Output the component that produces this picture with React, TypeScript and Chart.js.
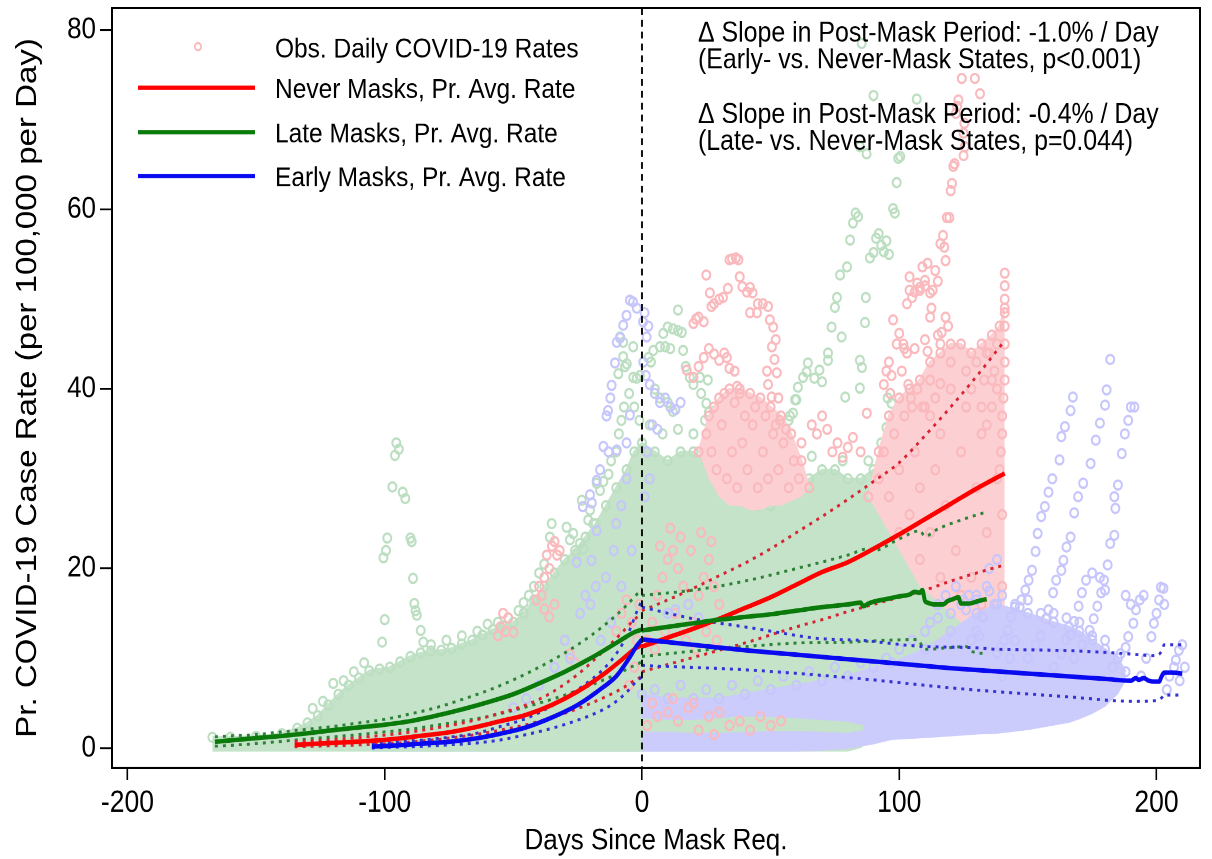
import React, { useEffect, useRef } from "react";
import { Chart, registerables } from "chart.js";

Chart.register(...registerables);

type Pt = [number, number];

// ---------------- axes ----------------
const xTickValues = [-200, -100, 0, 100, 200];
const yTickValues = [0, 20, 40, 60, 80];
const xTitle = "Days Since Mask Req.";
const yTitle = "Pr. COVID-19 Case Rate (per 100,000 per Day)";

const legendLabels = [
  "Obs. Daily COVID-19 Rates",
  "Never Masks, Pr. Avg. Rate",
  "Late Masks, Pr. Avg. Rate",
  "Early Masks, Pr. Avg. Rate",
];
const noteLines = [
  "\u0394 Slope in Post-Mask Period: -1.0% / Day",
  "(Early- vs. Never-Mask States, p<0.001)",
  "\u0394 Slope in Post-Mask Period: -0.4% / Day",
  "(Late- vs. Never-Mask States, p=0.044)",
];

// ---------------- predicted average rates ----------------
const neverPreDays = [-135, -125, -115, -105, -95, -85, -75, -65, -55, -45, -35, -25, -15, -8, -3, 0];
const neverPreRate = [0.35, 0.5, 0.65, 0.8, 1.05, 1.4, 1.75, 2.3, 3.0, 3.7, 4.8, 6.3, 8.2, 9.8, 11.0, 11.5];
const neverPreUpper = [0.7, 0.85, 1.05, 1.3, 1.6, 2.0, 2.5, 3.1, 3.9, 4.8, 6.2, 8.2, 10.8, 12.8, 14.3, 15.0];
const neverPreLower = [0.15, 0.22, 0.3, 0.4, 0.55, 0.8, 1.1, 1.5, 2.0, 2.6, 3.4, 4.4, 5.6, 6.6, 7.5, 8.0];
const neverPostDays = [0, 10, 20, 30, 40, 50, 60, 70, 80, 90, 100, 110, 120, 130, 141];
const neverPostRate = [11.3, 12.3, 13.3, 14.4, 15.6, 16.8, 18.2, 19.6, 20.7, 22.2, 23.8, 25.5, 27.2, 28.9, 30.6];
const neverPostUpper = [15.3, 16.5, 17.8, 19.2, 20.6, 22.2, 24.0, 25.8, 27.7, 29.7, 31.8, 34.8, 38.0, 41.4, 45.4];
const neverPostLower = [8.5, 9.3, 10.1, 10.9, 11.7, 12.6, 13.5, 14.3, 15.2, 16.0, 16.8, 17.6, 18.6, 19.5, 20.4];

const latePreDays = [-166, -160, -150, -140, -130, -120, -110, -100, -90, -80, -70, -60, -50, -40, -30, -20, -10, -3, 0];
const latePreRate = [0.7, 0.85, 1.1, 1.35, 1.65, 2.0, 2.3, 2.6, 3.0, 3.6, 4.3, 5.1, 6.0, 7.2, 8.5, 10.0, 11.7, 12.9, 13.2];
const latePreUpper = [1.25, 1.35, 1.5, 1.8, 2.1, 2.4, 2.8, 3.2, 3.8, 4.5, 5.4, 6.4, 7.6, 9.0, 10.6, 12.5, 14.8, 16.8, 17.8];
const latePreLower = [0.2, 0.3, 0.5, 0.75, 1.0, 1.25, 1.5, 1.8, 2.1, 2.55, 3.0, 3.5, 4.2, 5.0, 5.9, 7.0, 8.2, 9.2, 9.6];
const latePostDays = [0, 10, 20, 30, 40, 50, 60, 70, 80, 85, 86, 88, 90, 95, 100, 104, 106, 108, 109, 110, 111, 114, 117, 119, 121, 123, 124, 127, 131, 134];
const latePostRate = [13.1, 13.5, 13.9, 14.3, 14.6, 14.9, 15.3, 15.7, 16.0, 16.2, 15.8, 16.1, 16.3, 16.6, 16.9, 17.1, 17.4, 17.3, 17.6, 16.4, 16.2, 16.0, 16.0, 16.4, 16.6, 16.8, 16.1, 16.1, 16.4, 16.6];
const latePostUpperDays = [0, 20, 40, 60, 80, 88, 90, 100, 108, 110, 115, 125, 134];
const latePostUpper = [17.0, 17.6, 18.6, 20.0, 21.5, 22.2, 22.0, 23.3, 24.2, 23.6, 24.4, 25.5, 26.3];
const latePostLowerDays = [0, 20, 40, 60, 80, 95, 107, 110, 120, 126, 128, 134];
const latePostLower = [10.2, 10.8, 11.3, 11.7, 11.8, 12.0, 12.1, 11.0, 11.2, 11.3, 10.8, 10.5];

const earlyPreDays = [-105, -95, -85, -75, -65, -55, -45, -35, -25, -15, -10, -5, -2, 0];
const earlyPreRate = [0.15, 0.3, 0.5, 0.7, 1.05, 1.6, 2.3, 3.4, 4.8, 6.8, 8.0, 10.0, 11.4, 12.1];
const earlyPreUpper = [0.5, 0.7, 0.9, 1.2, 1.6, 2.4, 3.3, 4.7, 6.5, 8.8, 10.5, 13.0, 15.2, 16.5];
const earlyPreLower = [0.0, 0.1, 0.2, 0.35, 0.55, 0.9, 1.5, 2.2, 3.1, 4.3, 5.2, 6.5, 7.5, 7.9];
const earlyPostDays = [0, 20, 40, 60, 80, 100, 120, 140, 160, 180, 190, 192, 193, 195, 197, 199, 201, 202, 203, 206, 210];
const earlyPostRate = [12.1, 11.5, 10.9, 10.4, 9.9, 9.4, 8.9, 8.5, 8.1, 7.7, 7.5, 7.8, 7.6, 7.8, 7.5, 7.4, 7.4, 8.0, 8.4, 8.4, 8.3];
const earlyPostUpperDays = [0, 20, 42, 69, 85, 110, 128, 138, 160, 184, 200, 202, 203, 210];
const earlyPostUpper = [15.7, 14.4, 13.4, 12.2, 12.0, 11.3, 11.2, 11.0, 10.9, 10.6, 10.3, 10.8, 11.5, 11.5];
const earlyPostLowerDays = [0, 41, 82, 124, 166, 191, 200, 202, 203, 209];
const earlyPostLower = [9.2, 8.7, 7.8, 6.6, 5.7, 5.2, 5.3, 5.6, 5.9, 5.9];

// ---------------- observed daily rates: dense clouds (upper / lower envelopes) ----------------
const lateDensePreDays = [-167, -160, -150, -140, -134, -130, -126, -122, -118, -114, -110, -106, -102, -98, -94, -90, -86, -82, -78, -74, -70, -66, -62, -58, -54, -50, -46, -42, -38, -34, -30, -26, -22, -18, -14, -10, -6, -3, 0];
const lateDensePreTop = [1.2, 1.2, 1.3, 1.6, 2.2, 2.8, 3.6, 4.8, 6.0, 7.0, 7.8, 8.6, 8.8, 9.0, 9.6, 10.2, 10.6, 10.8, 10.9, 11.1, 11.6, 12.0, 12.6, 13.2, 13.6, 14.0, 15.0, 16.5, 18.0, 19.5, 21.0, 22.0, 23.5, 25.0, 27.0, 29.0, 31.0, 33.0, 34.0];
const lateDensePreBottom = [-0.4, -0.4, -0.4, -0.4, -0.4, -0.4, -0.4, -0.4, -0.4, -0.4, -0.4, -0.4, -0.4, -0.4, -0.4, -0.4, -0.4, -0.4, -0.4, -0.4, -0.4, -0.4, -0.4, -0.4, -0.4, -0.4, -0.4, -0.4, -0.4, -0.4, -0.4, -0.4, -0.4, -0.4, -0.4, -0.4, -0.4, -0.4, -0.4];
const lateDensePostDays = [0, 5, 10, 15, 20, 25, 30, 35, 40, 45, 50, 55, 60, 65, 70, 75, 80, 85, 90, 95, 100, 105, 110, 115, 120, 125, 130, 135];
const lateDensePostTop = [34, 33, 32, 33, 33, 32, 31, 29, 28, 27, 27, 28, 29, 30, 31, 31, 30, 30, 31, 30, 29, 28, 26, 25, 23, 21, 19, 17];
const lateDensePostBottom = [-0.4, -0.4, -0.4, -0.4, -0.4, -0.4, -0.4, -0.4, -0.4, -0.4, -0.4, -0.4, -0.4, -0.4, -0.4, -0.4, -0.4, 0, 1, 2, 3, 4, 4, 4, 4, 4, 4, 4];
const lateDenseLowDays = [0, 10, 20, 30, 40, 50, 60, 70, 80, 86];
const lateDenseLowTop = [3.2, 3.0, 3.0, 3.2, 3.4, 3.3, 3.2, 3.0, 2.8, 2.4];
const lateDenseLowBottom = [1.8, 1.8, 1.7, 1.7, 1.8, 1.9, 1.9, 1.8, 1.7, 2.0];

const neverDenseADays = [22, 26, 30, 34, 38, 42, 46, 50, 54, 58, 62, 65];
const neverDenseATop = [33, 37, 39, 40, 40, 39.5, 39, 38, 37, 35, 32, 29];
const neverDenseABottom = [33, 30, 28, 27, 27, 26.5, 26.5, 27, 27, 27.5, 28, 29];
const neverDenseBDays = [88, 92, 96, 100, 104, 108, 112, 116, 120, 124, 128, 132, 136, 139, 141];
const neverDenseBTop = [28, 33, 37, 39, 40, 41, 43, 44, 45, 45, 44, 45, 46, 47, 49];
const neverDenseBBottom = [28, 26, 24, 22, 20, 18, 17, 16, 15, 14, 13.5, 13, 13, 13.5, 14];

const earlyDensePreDays = [-105, -80, -60, -40, -20, 0];
const earlyDensePreTop = [0.8, 1.0, 1.2, 1.5, 2.0, 3.0];
const earlyDensePreBottom = [-0.4, -0.4, -0.4, -0.4, -0.4, -0.4];
const earlyDensePostDays = [0, 10, 20, 30, 40, 50, 60, 70, 80, 90, 97, 110, 120, 130, 138, 150, 160, 166, 170, 175, 180, 185, 188];
const earlyDensePostTop = [6, 5.5, 5.5, 5.5, 6, 6.5, 7, 7.5, 8, 9, 9.5, 11, 13, 15, 16, 15, 14, 13.5, 13, 12, 11, 10, 8.5];
const earlyDensePostBottom = [-0.4, -0.4, -0.4, -0.4, -0.4, -0.4, -0.4, -0.3, -0.1, 0.4, 0.9, 1.1, 1.3, 1.5, 1.6, 2.0, 2.5, 2.8, 3.2, 3.8, 4.6, 6.0, 7.5];

// ---------------- observed daily rates: individual points [day, rate] ----------------
const lateObs: Pt[] = [
  [-101, 11.8], [-100, 14.3], [-100.5, 21.2], [-99.5, 22.0], [-99, 23.4], [-97, 29.1], [-96, 32.6], [-95.5, 34.0], [-94.5, 33.3], [-93, 28.5], [-92, 27.8], [-90, 23.4], [-89.5, 23.0], [-89, 18.9], [-88.5, 16.1], [-88, 15.3], [-86, 13.1], [-85, 11.8], [-87.5, 14.8],
  [-35.1, 25.0], [-35.8, 23.5], [-29.3, 24.6], [-26.7, 23.9], [-28, 23.2], [-24.1, 22.8], [-22.8, 22.2], [-25.4, 21.7], [-20.9, 25.4], [-18.9, 25.0], [-23.4, 27.6], [-20.2, 26.5], [-17.6, 29.5], [-15, 29.7], [-16.3, 28.7], [-13, 30.5], [-12, 32], [-10, 33], [-9, 35], [-8, 36.5], [-7, 38],
  [-9.2, 41.7], [-7.3, 43.6], [-5.9, 42.8], [-6.6, 42.5], [-3.4, 44.7], [-3.4, 41.3], [-2.1, 41.2], [-0.8, 41.5], [-8.5, 45.8], [-7.3, 45.2], [-5, 39.5], [-3, 38], [-1, 36.5],
  [-44, 17], [-46, 16.2], [-42, 18], [-40, 19.5], [-38, 20.5], [-48, 15.3], [-52, 14.5], [-56, 14], [-60, 13.8], [-64, 13], [-70, 12.5], [-76, 12], [-82, 11.5], [-108, 9.5], [-112, 8.5], [-116, 7.5], [-120, 7.2], [-124, 5.2], [-128, 4.4],
  [2.5, 43.5], [3.5, 43], [4.4, 44.3], [7, 44.7], [9, 44.7], [11, 44.5], [16, 44.3], [8.3, 46.2], [10, 46.9], [12, 46.7], [14, 46.5], [15.5, 46.3], [14, 48.8], [18.6, 41.3], [22.5, 41.3], [25.6, 41], [23, 39.5], [25, 38.4], [28, 37.5], [26, 37.4], [24.5, 36.5], [29, 35], [30, 34.3], [20, 40.5], [17, 42.5], [5, 40], [7, 39], [10, 38.5], [12, 37.5],
  [55, 33.9], [56, 35], [57, 36.5], [58.7, 37.3], [59.5, 38.8], [60.6, 40.2], [62.6, 41.3], [64, 41.9], [64.5, 42.9], [67, 41.2], [69, 42.1], [70, 40.8], [72.3, 43.2], [72.3, 44], [73.7, 46.9], [75, 49.1], [75.8, 50.2], [77.6, 45.8], [77, 52.7], [79.7, 53.6], [80.9, 56.6], [82, 58.5], [83, 59.6], [84, 59.2],
  [84.7, 40.1], [85.5, 42.4], [84.7, 43.2], [86.7, 47.4], [87, 50.2], [88.6, 54.6], [90, 55.2], [91, 56.8], [92, 57.3], [93, 56], [94, 55.3], [95, 56.5], [96, 55], [97.6, 60.1], [98.3, 59.6], [99, 63], [99.6, 65.7], [100.4, 65.9], [84.7, 67], [87.3, 66.2], [90, 72.7], [106.8, 72.3], [85.4, 78.5],
  [79, 39.1], [95, 35.7], [96, 37], [97, 38.4], [95.5, 39], [93, 34], [60, 38.8], [57.5, 37], [113, 22], [115, 23.5], [118, 21], [120, 24], [122, 20], [125, 19],
  [36, 31], [44, 30], [52, 31.5], [66, 32.5], [78, 32], [88, 32], [100, 30.5], [108, 28.5], [3, 36], [8, 35], [14, 35.5], [20, 35], [26, 33.5],
];

const neverObs: Pt[] = [
  [-56, 12.5], [-55, 13.5], [-54, 15], [-52, 14.5], [-50, 12.9], [-53, 13], [-41, 16.5], [-40, 18], [-39, 17], [-38, 19], [-36, 20], [-37, 21.5], [-35, 22.5], [-34, 23], [-33, 21.5], [-32, 22], [-36, 14.6], [-34, 16], [-38, 15.5], [-30, 12], [-28, 10.5], [-26, 9.5],
  [-10, 13], [-8, 15], [-6, 16.5], [-4, 14], [-2, 12], [-3, 9], [-5, 7], [-1, 16],
  [2, 12], [4, 14], [6, 17], [8, 19], [10, 21], [12, 22], [14, 20], [16, 18], [18, 16], [20, 14], [22, 17], [24, 19], [26, 21], [28, 18], [30, 16], [5, 11], [9, 13], [13, 15], [17, 12], [21, 11], [25, 13], [29, 12], [7, 22.5], [11, 24.5], [15, 23.5], [19, 22], [23, 24], [27, 23],
  [17.4, 42.1], [20, 41.3], [22, 42.5], [24, 43.5], [26, 44.5], [28, 43.9], [30, 43.2], [32, 44], [33, 43.5], [34, 42.3], [36, 42], [37, 40.3], [38, 39.5], [20, 47.3], [21, 47.8], [22, 48], [24, 47.5], [25, 52.7], [26.4, 50.7], [27, 49.2], [28, 49.5], [30, 50], [31.5, 50.2], [33.4, 51.2], [34, 54.4], [35, 54.5], [36.5, 54.6], [37.5, 54.4], [38, 52.5], [39, 51.4], [40.8, 50.8], [42, 51.3], [43, 50.7], [42, 48.5], [44.7, 48.5], [45, 49.5], [47, 49.5], [49, 49.2], [49.7, 47.7], [51, 46.9], [50.5, 44.7], [51.5, 43.3], [52.4, 41.8], [53, 39], [53.6, 36.5], [50.4, 39.1], [48.6, 42], [49, 40.5], [52, 45.5],
  [25, 35], [27, 33], [29, 31], [31, 36], [33, 30], [35, 33], [37, 29], [39, 34], [41, 31], [43, 36], [45, 29], [47, 33], [49, 30], [51, 35], [53, 31], [55, 34], [57, 29], [59, 32], [61, 30], [28, 38], [32, 39.5], [36, 38.5], [40, 37], [44, 38], [48, 37], [52, 36], [56, 35.5],
  [78, 32.4], [80, 33.5], [82, 34.6], [85, 33], [87.4, 37.3], [66, 36], [68, 35], [70, 37], [72, 35.5], [74, 33], [76, 34], [62, 34],
  [94, 40.5], [95, 42], [96, 43], [97, 41.5], [96.5, 39.5], [97.6, 47.7], [99, 45], [100, 46.2], [101.6, 45], [102, 44.5], [103, 49.5], [104, 51], [105, 50.2], [103.5, 40.5], [104.5, 39], [105, 38], [106, 44.5], [107, 51.8], [108, 51.3], [109, 53.6], [110, 52.1], [111, 54], [110, 45.5], [111, 44.2], [112, 48], [112.5, 49], [113, 51], [114, 53.2], [115, 52], [116, 56.2], [116.5, 46.3], [117, 57.1], [117.5, 55.8], [118, 54.3], [118.5, 59.1], [119.5, 59.1], [120, 62.1], [120.5, 62.9], [121, 64.8], [121.5, 65.1], [122, 70.7], [122.5, 71.5], [123, 72.2], [124.3, 74.6], [125, 68.5], [125.3, 69.6], [125, 66], [125.5, 67], [129.4, 74.6], [131.4, 72.9],
  [112, 50.7], [110, 51.5], [108, 51], [106, 50.8], [104, 52.5], [115, 46], [116, 45], [107, 40], [109, 38], [112, 37], [114, 39], [116, 40.6], [101, 42], [103, 44], [118, 48], [119, 47],
  [92, 30], [94, 33], [96, 28], [98, 35], [100, 31], [102, 37], [104, 26], [106, 33], [108, 29], [110, 38], [112, 24], [114, 31], [116, 35], [118, 27], [120, 40], [122, 22], [124, 33], [126, 38], [128, 19], [130, 29], [132, 35], [134, 24], [136, 41], [138, 30], [140, 26], [100, 24], [108, 21], [116, 19], [124, 17], [132, 16], [140, 18], [126, 42], [120, 43], [112, 41], [134, 44], [138, 45],
  [139, 31], [139.5, 33], [140, 35], [140, 37], [140.5, 39], [141, 41], [141, 43], [141, 45], [141, 47], [141, 48.5], [141, 50], [141, 51.5], [141, 52.9], [138, 40], [137, 42], [136, 38], [135, 44], [134, 36], [133, 41], [132, 38], [130, 43], [128, 40],
];

const neverObsLow: Pt[] = [
  [2, 2.5], [6, 3.5], [10, 4], [14, 3], [18, 4.5], [22, 2], [26, 3.5], [30, 4], [34, 2.5], [38, 3], [42, 2], [46, 3.5], [50, 2.5], [54, 3], [4, 5], [12, 5.5], [20, 5], [28, 1.5],
];

const earlyObs: Pt[] = [
  [-25.4, 20.7], [-23, 26.9], [-20.2, 28.2], [-19.5, 27.3], [-17.6, 29.8], [-16.3, 31], [-15, 33.6], [-13, 33], [-13.8, 37], [-13.2, 37.6], [-12.3, 39], [-11.8, 40.4], [-10.5, 42.9], [-9.8, 45.2], [-8.5, 45.7], [-7.3, 47.1], [-6, 48.2], [-4.7, 49.9], [-3.5, 49.7], [-2, 49], [-9.8, 33.2], [-6, 34], [-4.7, 37.1], [-19.6, 20.9], [-17.6, 24.2],
  [0.4, 47.5], [1.8, 45.8], [1, 48.5], [2.5, 47], [0.5, 43], [1.5, 41.5], [3, 40.5], [5, 39.5], [7, 38.5], [9, 39], [11, 38], [13, 37.7], [15, 38.5], [4, 36], [6, 35.5], [2, 33], [3, 30], [1, 28],
  [-22, 17], [-20, 16], [-18, 18], [-24, 15], [-10, 25], [-8, 27], [-6, 30], [-11, 22], [-14, 19], [-30, 12], [-28, 10], [-34, 9], [-40, 7], [-45, 5.5], [-50, 4.5], [-16, 12], [-12, 14], [-8, 18], [-4, 22],
  [10, 15], [13, 15.4], [18, 16], [22, 14.5],
  [5, 6.5], [15, 7], [25, 6.5], [35, 7], [45, 7.5], [55, 8], [65, 8.5], [75, 9], [85, 9.5], [95, 10],
  [100, 11], [105, 12], [110, 13], [115, 14.5], [120, 15], [125, 16.5], [130, 17], [135, 17.5], [140, 17], [145, 16], [150, 16.5], [155, 15], [160, 15], [165, 14.5], [170, 14], [175, 12.5], [180, 12],
  [140, 8], [143, 10], [145, 12], [146.8, 15.7], [147.5, 16.5], [149, 17.6], [150.3, 18.7], [151.6, 19.8], [153, 21.9], [153.8, 23.9], [155.2, 25.8], [156.6, 26.9], [158, 28.5], [159.5, 30], [162.3, 32.1], [163, 34.7], [164.4, 35.8], [166.6, 37.6], [167.5, 39.1],
  [150, 10], [153, 11.5], [155, 12.5], [157, 14.4], [158, 15.4], [159.8, 17.3], [161, 18.7], [163, 19.8], [163.8, 20.9], [165, 22.4], [166.6, 23.5], [168, 26.2], [169.5, 28], [171.5, 29.5], [174.4, 31.7], [176.4, 34.3], [178, 36.2], [180, 38.2], [180.6, 39.9], [182, 43.3],
  [168, 10], [171, 11.5], [174, 13.1], [175.6, 14.4], [177, 15.8], [178.5, 17.3], [179.6, 18.7], [181, 20.4], [182, 22.8], [183.6, 23.7], [184, 26.7], [183.6, 28], [185, 29.3], [186.5, 32.8], [187.7, 35], [189, 36.5], [190, 38], [191.4, 38],
  [160, 9], [163, 10.5], [164.7, 12.1], [166.6, 12.6], [168, 14.1], [169.7, 15.8], [171, 17.3], [172.6, 18.7], [175, 19.5], [178, 19], [180, 17.6],
  [183, 9], [186, 10.5], [188, 11.2], [189, 12.4], [191, 13.9], [192, 15.4], [193.5, 16.5], [195, 17], [190, 16], [188, 17],
  [194, 8], [196, 10], [198, 12.4], [199, 13.9], [200, 15], [201, 16.5], [201.7, 17.9], [202.7, 17.8], [203, 16],
  [206.8, 9], [207.5, 9.8], [208.7, 10.9], [210, 11.5], [205, 8], [209, 7.5], [211, 9], [204, 6.5],
  [145, 15.7], [143.4, 14.6], [142.2, 13.1], [140.7, 12], [139.5, 11.2], [138, 10.6], [128, 12], [130, 13], [132.5, 14.6], [131, 12.5], [124, 16], [127, 17], [130, 16.5], [134, 18], [137, 16], [126, 15.4], [135, 20], [138, 21], [122, 18], [118, 17], [115, 16], [112, 14],
];

// ---------------- styling ----------------
const FONT = "'Liberation Sans', Arial, Helvetica, sans-serif";
const PINK = "rgb(250,185,189)";
const PINK_FILL = "rgb(252,208,210)";
const GREEN = "rgb(188,222,193)";
const GREEN_FILL = "rgb(196,227,200)";
const LAV = "rgb(198,198,252)";
const LAV_FILL = "rgb(204,204,252)";
const RED = "#ff0000";
const DKGREEN = "#0a7a0a";
const BLUE = "#0a0af0";
const RED_DOT = "rgb(215,35,50)";
const GREEN_DOT = "rgb(45,130,55)";
const BLUE_DOT = "rgb(50,50,215)";

const W = 1212;
const H_OUT = 859;
const H = 754;

function buildDatasets() {
  const ds: any[] = [];
  const xy = (xs: number[], ys: number[]) => xs.map((x, i) => ({ x, y: ys[i] }));
  const pairs = (p: Pt[]) => p.map(([x, y]) => ({ x, y }));
  const addMass = (days: number[], top: number[], bottom: number[], color: string, fillColor: string, radius: number) => {
    const lowerIdx = ds.length;
    ds.push({
      data: xy(days, bottom), showLine: true, borderWidth: 1, borderColor: "rgba(0,0,0,0)",
      pointRadius: 0, fill: false,
    });
    ds.push({
      data: xy(days, top), showLine: true, borderWidth: 2, borderColor: fillColor,
      backgroundColor: fillColor, fill: lowerIdx,
      pointRadius: radius, pointBorderWidth: 2, pointBorderColor: color, pointBackgroundColor: "rgba(0,0,0,0)",
    });
  };
  const addDots = (p: Pt[], color: string) => {
    ds.push({
      data: pairs(p), showLine: false, fill: false,
      borderColor: color, backgroundColor: "rgba(0,0,0,0)",
      pointRadius: 4, pointBorderWidth: 2, pointBorderColor: color, pointBackgroundColor: "rgba(0,0,0,0)",
    });
  };
  const addLine = (xs: number[], ys: number[], color: string, width: number, dash: number[]) => {
    ds.push({
      data: xy(xs, ys), showLine: true, fill: false, borderColor: color, borderWidth: width,
      borderDash: dash, pointRadius: 0, cubicInterpolationMode: "monotone", borderCapStyle: "butt",
    });
  };

  addMass(earlyDensePreDays, earlyDensePreTop, earlyDensePreBottom, LAV, LAV_FILL, 4);
  addMass(lateDensePreDays, lateDensePreTop, lateDensePreBottom, GREEN, GREEN_FILL, 4);
  addMass(lateDensePostDays, lateDensePostTop, lateDensePostBottom, GREEN, GREEN_FILL, 4);
  addDots(lateObs, GREEN);
  addMass(neverDenseADays, neverDenseATop, neverDenseABottom, PINK, PINK_FILL, 4);
  addMass(neverDenseBDays, neverDenseBTop, neverDenseBBottom, PINK, PINK_FILL, 4);
  addDots(neverObs, PINK);
  addMass(earlyDensePostDays, earlyDensePostTop, earlyDensePostBottom, LAV, LAV_FILL, 4);
  addMass(lateDenseLowDays, lateDenseLowTop, lateDenseLowBottom, GREEN_FILL, GREEN_FILL, 0);
  addDots(neverObsLow, PINK);
  addDots(earlyObs, LAV);

  const dot = [3, 5];
  addLine(latePreDays, latePreUpper, GREEN_DOT, 2.6, dot);
  addLine(latePreDays, latePreLower, GREEN_DOT, 2.6, dot);
  addLine(latePostUpperDays, latePostUpper, GREEN_DOT, 2.6, dot);
  addLine(latePostLowerDays, latePostLower, GREEN_DOT, 2.6, dot);
  addLine(neverPreDays, neverPreUpper, RED_DOT, 2.6, dot);
  addLine(neverPreDays, neverPreLower, RED_DOT, 2.6, dot);
  addLine(neverPostDays, neverPostUpper, RED_DOT, 2.6, dot);
  addLine(neverPostDays, neverPostLower, RED_DOT, 2.6, dot);
  addLine(earlyPreDays, earlyPreUpper, BLUE_DOT, 2.6, dot);
  addLine(earlyPreDays, earlyPreLower, BLUE_DOT, 2.6, dot);
  addLine(earlyPostUpperDays, earlyPostUpper, BLUE_DOT, 2.6, dot);
  addLine(earlyPostLowerDays, earlyPostLower, BLUE_DOT, 2.6, dot);

  addLine(neverPreDays, neverPreRate, RED, 4, []);
  addLine(neverPostDays, neverPostRate, RED, 4, []);
  addLine(latePreDays, latePreRate, DKGREEN, 4, []);
  addLine(latePostDays, latePostRate, DKGREEN, 4, []);
  addLine(earlyPreDays, earlyPreRate, BLUE, 4, []);
  addLine(earlyPostDays, earlyPostRate, BLUE, 4, []);

  ds.forEach((d, i) => (d.order = ds.length - i));
  return ds;
}

const overlayPlugin = {
  id: "overlay",
  afterDatasetsDraw(chart: any) {
    const { ctx, chartArea: a, scales } = chart;
    const x0 = scales.x.getPixelForValue(0);
    ctx.save();
    ctx.strokeStyle = "#111";
    ctx.lineWidth = 2;
    ctx.setLineDash([6, 4.4]);
    ctx.beginPath();
    ctx.moveTo(x0, a.top);
    ctx.lineTo(x0, a.bottom);
    ctx.stroke();
    ctx.setLineDash([]);
    ctx.strokeStyle = "#000";
    ctx.lineWidth = 2;
    ctx.strokeRect(a.left, a.top, a.right - a.left, a.bottom - a.top);

    ctx.font = `24.5px ${FONT}`;
    ctx.fillStyle = "#000";
    ctx.textBaseline = "middle";
    ctx.textAlign = "left";
    const textX = 275;
    const textY = [43.5, 79, 118, 156.5];
    const lineY = [77, 116, 154.5];
    const lineColors = [RED, DKGREEN, BLUE];
    ctx.beginPath();
    ctx.strokeStyle = PINK;
    ctx.lineWidth = 1.8;
    ctx.arc(198, 41, 3.2, 0, Math.PI * 2);
    ctx.stroke();
    lineColors.forEach((c, i) => {
      ctx.strokeStyle = c;
      ctx.lineWidth = 3.8;
      ctx.beginPath();
      ctx.moveTo(138, lineY[i]);
      ctx.lineTo(255, lineY[i]);
      ctx.stroke();
    });
    legendLabels.forEach((t, i) => ctx.fillText(t, textX, textY[i]));

    ctx.font = `24.9px ${FONT}`;
    const noteY = [29.5, 53, 101, 124.5];
    noteLines.forEach((t, i) => ctx.fillText(t, 698, noteY[i]));
    ctx.restore();
  },
};

export default function App() {
  const ref = useRef<HTMLCanvasElement>(null);
  useEffect(() => {
    if (!ref.current) return;
    Chart.defaults.font.family = FONT;
    const chart = new Chart(ref.current, {
      type: "line",
      data: { datasets: buildDatasets() },
      options: {
        responsive: false,
        animation: false,
        devicePixelRatio: 2,
        events: [],
        layout: { padding: { top: 7, right: 12, left: 0, bottom: 0 } },
        plugins: { legend: { display: false }, tooltip: { enabled: false } },
        scales: {
          x: {
            type: "linear",
            min: -206,
            max: 216.9,
            afterBuildTicks: (s: any) => {
              s.ticks = xTickValues.map((v) => ({ value: v }));
            },
            afterFit: (s: any) => {
              s.height = 80;
              s.paddingLeft = 0;
              s.paddingRight = 0;
            },
            grid: { display: true, drawOnChartArea: false, drawTicks: true, tickLength: 10.5, color: "#000", lineWidth: 1.6 },
            border: { display: false },
            ticks: { color: "#000", font: { size: 26.5 }, padding: 5, maxRotation: 0, autoSkip: false },
            title: { display: true, text: xTitle, color: "#000", font: { size: 26 }, padding: { top: 0, bottom: 0 } },
          },
          y: {
            type: "linear",
            min: -2.21,
            max: 82.45,
            afterBuildTicks: (s: any) => {
              s.ticks = yTickValues.map((v) => ({ value: v }));
            },
            afterFit: (s: any) => {
              s.width = 112;
              s.paddingTop = 0;
              s.paddingBottom = 0;
            },
            grid: { display: true, drawOnChartArea: false, drawTicks: true, tickLength: 12, color: "#000", lineWidth: 1.6 },
            border: { display: false },
            ticks: { color: "#000", font: { size: 26 }, padding: 4, autoSkip: false },
            title: { display: true, text: yTitle, color: "#000", font: { size: 29 }, padding: { top: 10.6, bottom: 0 } },
          },
        },
      },
      plugins: [overlayPlugin],
    } as any);
    return () => chart.destroy();
  }, []);

  return (
    <div style={{ position: "fixed", left: 0, top: 0, width: W, height: H_OUT, overflow: "hidden", background: "#fff" }}>
      <div style={{ width: W, height: H, transform: `scaleY(${H_OUT / H})`, transformOrigin: "0 0" }}>
        <canvas ref={ref} width={W} height={H} style={{ width: W, height: H, display: "block" }} />
      </div>
    </div>
  );
}
